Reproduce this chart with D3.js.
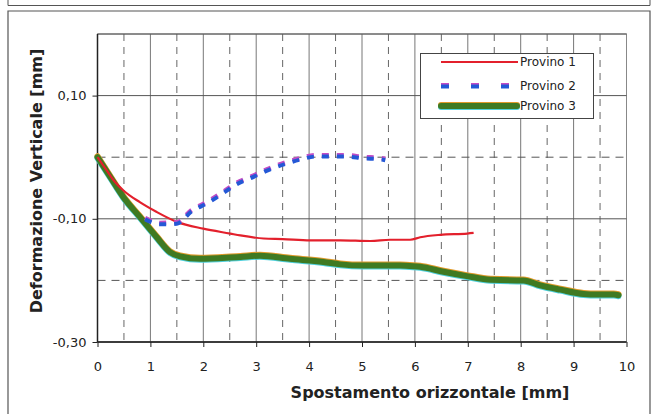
<!DOCTYPE html>
<html>
<head>
<meta charset="utf-8">
<script src="https://cdn.jsdelivr.net/npm/d3@7"></script>
<style>
html,body{margin:0;padding:0;background:#fff;}
svg{display:block;font-family:"DejaVu Sans",Verdana,sans-serif;}
</style>
</head>
<body>
<svg id="chart" width="660" height="414"></svg>
<script>
// ---- data ----
const xTicks = [0,1,2,3,4,5,6,7,8,9,10];
const yTicks = [-0.30,-0.10,0.10];
const yMinor = [0.0,-0.20];
const seriesNames = ["Provino 1","Provino 2","Provino 3"];

const p1x = [0,0.17,0.30,0.49,0.80,1.12,1.50,2.00,2.51,2.70,3.14,3.50,4.02,4.59,5.16,5.53,5.91,6.10,6.48,6.99,7.11];
const p1y = [0,-0.021,-0.037,-0.054,-0.073,-0.089,-0.105,-0.116,-0.124,-0.127,-0.132,-0.133,-0.135,-0.135,-0.136,-0.134,-0.134,-0.130,-0.126,-0.124,-0.123];

const p2x = [0.90,1.18,1.50,1.78,2.07,2.35,2.63,2.95,3.23,3.55,3.83,4.12,4.40,4.71,5.03,5.31,5.44];
const p2y = [-0.100,-0.108,-0.107,-0.087,-0.074,-0.059,-0.043,-0.031,-0.020,-0.010,-0.003,0.002,0.002,0.002,-0.001,-0.002,-0.004];

const p3x = [0,0.24,0.49,0.80,1.12,1.37,1.56,1.94,2.51,2.70,3.07,3.64,4.27,4.59,5.03,5.22,5.72,5.97,6.10,6.54,6.98,7.43,7.93,8.05,8.37,8.75,9.19,9.45,9.76,9.85];
const p3y = [0,-0.032,-0.065,-0.097,-0.130,-0.154,-0.161,-0.165,-0.163,-0.162,-0.160,-0.165,-0.170,-0.174,-0.176,-0.176,-0.176,-0.177,-0.178,-0.186,-0.193,-0.199,-0.200,-0.200,-0.208,-0.215,-0.222,-0.223,-0.223,-0.224];

// ---- drawing ----
const svg = d3.select("#chart");
const L = 97.5, R = 626.5, T = 34, B = 342;
const x = d3.scaleLinear().domain([0,10]).range([L,R]);
const y = d3.scaleLinear().domain([-0.30,0.20]).range([B,T]);

// outer frames (scanned page boxes)
svg.append("path").attr("d","M8,0 V5.5 H650 V0").attr("fill","none").attr("stroke","#555").attr("stroke-width",1);
svg.append("path").attr("d","M8,414 V11 H650 V414").attr("fill","none").attr("stroke","#555").attr("stroke-width",1.2);

// plot area
svg.append("rect").attr("x",L).attr("y",T).attr("width",R-L).attr("height",B-T)
  .attr("fill","#fff").attr("stroke","#888").attr("stroke-width",1);

const grid = svg.append("g");
d3.range(0.5,10,1).forEach(v=>{
  grid.append("line").attr("x1",x(v)).attr("x2",x(v)).attr("y1",T).attr("y2",B)
    .attr("stroke","#666").attr("stroke-width",1).attr("stroke-dasharray","7,6");
});
d3.range(1,10,1).forEach(v=>{
  grid.append("line").attr("x1",x(v)).attr("x2",x(v)).attr("y1",T).attr("y2",B)
    .attr("stroke","#777").attr("stroke-width",1);
});
yTicks.concat([0.20]).forEach(v=>{
  grid.append("line").attr("x1",L).attr("x2",R).attr("y1",y(v)).attr("y2",y(v))
    .attr("stroke","#555").attr("stroke-width",1);
});
yMinor.forEach(v=>{
  grid.append("line").attr("x1",L).attr("x2",R).attr("y1",y(v)).attr("y2",y(v))
    .attr("stroke","#555").attr("stroke-width",1).attr("stroke-dasharray","8,6");
});

// axes
const fmt = d => d3.format(".2f")(d).replace(".",",").replace("−","-");
const yAxis = svg.append("g").attr("transform",`translate(${L},0)`)
  .call(d3.axisLeft(y).tickValues(yTicks).tickSize(5).tickPadding(6).tickFormat(fmt));
const xAxis = svg.append("g").attr("transform",`translate(0,${B})`)
  .call(d3.axisBottom(x).tickValues(xTicks).tickSize(5).tickPadding(15).tickFormat(d3.format("d")));
[yAxis,xAxis].forEach(a=>{
  a.selectAll("path.domain").attr("stroke","#222").attr("stroke-width",1.5);
  a.selectAll("line").attr("stroke","#222");
  a.selectAll("text").attr("font-family","'DejaVu Sans',Verdana,sans-serif").attr("font-size",13).attr("fill","#222");
});
xAxis.select("path.domain").attr("d",`M${L},0H${R}`);
yAxis.select("path.domain").attr("d",`M0,${B}V${T}`);

// series
const mk = (xs,ys) => xs.map((v,i)=>[v,ys[i]]);
const line = d3.line().x(d=>x(d[0])).y(d=>y(d[1])).curve(d3.curveMonotoneX);
const d1 = mk(p1x,p1y), d2 = mk(p2x,p2y), d3d = mk(p3x,p3y);

const gS = svg.append("g");
gS.append("path").attr("d",line(d3d)).attr("transform","translate(0,-1)")
  .attr("fill","none").attr("stroke","#e09a2a").attr("stroke-width",6).attr("stroke-linecap","round");
gS.append("path").attr("d",line(d3d)).attr("transform","translate(0,1)")
  .attr("fill","none").attr("stroke","#4fd0dc").attr("stroke-width",6).attr("stroke-linecap","round");
gS.append("path").attr("d",line(d3d))
  .attr("fill","none").attr("stroke","#3f7a22").attr("stroke-width",6).attr("stroke-linecap","round");
gS.append("path").attr("d",line(d1))
  .attr("fill","none").attr("stroke","#e3202c").attr("stroke-width",2.2);
gS.append("path").attr("d",line(d2)).attr("transform","translate(0,-0.8)")
  .attr("fill","none").attr("stroke","#c24dc6").attr("stroke-width",4.5).attr("stroke-dasharray","7,8");
gS.append("path").attr("d",line(d2)).attr("transform","translate(0,0.6)")
  .attr("fill","none").attr("stroke","#2458d6").attr("stroke-width",4).attr("stroke-dasharray","7,8");

// legend
const lg = svg.append("g");
lg.append("rect").attr("x",420.5).attr("y",53.5).attr("width",173).attr("height",65)
  .attr("fill","#fff").attr("stroke","#444").attr("stroke-width",1);
const ly = [62,86,106];
lg.append("line").attr("x1",441).attr("x2",518).attr("y1",ly[0]).attr("y2",ly[0])
  .attr("stroke","#e3202c").attr("stroke-width",2.2);
lg.append("line").attr("x1",441).attr("x2",519).attr("y1",ly[1]-0.8).attr("y2",ly[1]-0.8)
  .attr("stroke","#c24dc6").attr("stroke-width",4.5).attr("stroke-dasharray","8,22");
lg.append("line").attr("x1",441).attr("x2",519).attr("y1",ly[1]+0.6).attr("y2",ly[1]+0.6)
  .attr("stroke","#2458d6").attr("stroke-width",4).attr("stroke-dasharray","8,22");
lg.append("line").attr("x1",441).attr("x2",517).attr("y1",ly[2]-1).attr("y2",ly[2]-1)
  .attr("stroke","#e09a2a").attr("stroke-width",6).attr("stroke-linecap","round");
lg.append("line").attr("x1",441).attr("x2",517).attr("y1",ly[2]+1).attr("y2",ly[2]+1)
  .attr("stroke","#4fd0dc").attr("stroke-width",6).attr("stroke-linecap","round");
lg.append("line").attr("x1",441).attr("x2",517).attr("y1",ly[2]).attr("y2",ly[2])
  .attr("stroke","#3f7a22").attr("stroke-width",6).attr("stroke-linecap","round");
seriesNames.forEach((n,i)=>{
  lg.append("text").attr("x",520).attr("y",ly[i]).attr("dy","0.36em")
    .attr("font-size",12).attr("fill","#222").text(n);
});

// axis titles
svg.append("text").attr("x",430).attr("y",398).attr("text-anchor","middle")
  .attr("font-size",16).attr("font-weight","bold").attr("fill","#222")
  .text("Spostamento orizzontale [mm]");
svg.append("text").attr("transform","translate(42,181) rotate(-90)").attr("text-anchor","middle")
  .attr("font-size",16).attr("font-weight","bold").attr("fill","#222")
  .text("Deformazione Verticale [mm]");
</script>
</body>
</html>
